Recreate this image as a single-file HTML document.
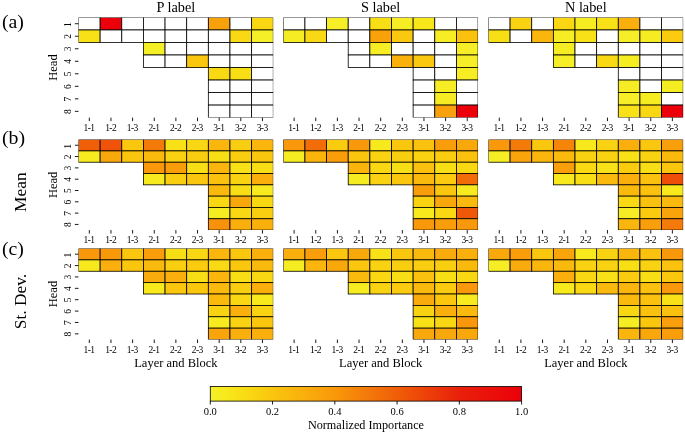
<!DOCTYPE html>
<html><head><meta charset="utf-8"><title>Figure</title>
<style>html,body{margin:0;padding:0;background:#fff;}svg{display:block}.t,.t text{font-family:"Liberation Serif",serif}</style></head>
<body>
<svg width="685" height="434" viewBox="0 0 685 434">
<rect width="685" height="434" fill="#fff"/>
<clipPath id="claP"><polygon points="78.50,17.45 273.26,17.45 273.26,117.61 78.50,117.61"/></clipPath>
<g stroke="#000" stroke-width="0.8" clip-path="url(#claP)">
<rect x="78.50" y="17.45" width="21.64" height="12.52" fill="#fff"/>
<rect x="100.14" y="17.45" width="21.64" height="12.52" fill="#ec000a"/>
<rect x="121.78" y="17.45" width="21.64" height="12.52" fill="#fff"/>
<rect x="143.42" y="17.45" width="21.64" height="12.52" fill="#fff"/>
<rect x="165.06" y="17.45" width="21.64" height="12.52" fill="#fff"/>
<rect x="186.70" y="17.45" width="21.64" height="12.52" fill="#fff"/>
<rect x="208.34" y="17.45" width="21.64" height="12.52" fill="#f9a10b"/>
<rect x="229.98" y="17.45" width="21.64" height="12.52" fill="#fff"/>
<rect x="251.62" y="17.45" width="21.64" height="12.52" fill="#f9d712"/>
<rect x="78.50" y="29.97" width="21.64" height="12.52" fill="#f8e217"/>
<rect x="100.14" y="29.97" width="21.64" height="12.52" fill="#fff"/>
<rect x="121.78" y="29.97" width="21.64" height="12.52" fill="#fff"/>
<rect x="143.42" y="29.97" width="21.64" height="12.52" fill="#fff"/>
<rect x="165.06" y="29.97" width="21.64" height="12.52" fill="#fff"/>
<rect x="186.70" y="29.97" width="21.64" height="12.52" fill="#fff"/>
<rect x="208.34" y="29.97" width="21.64" height="12.52" fill="#fff"/>
<rect x="229.98" y="29.97" width="21.64" height="12.52" fill="#f8d913"/>
<rect x="251.62" y="29.97" width="21.64" height="12.52" fill="#f5ef27"/>
<rect x="143.42" y="42.49" width="21.64" height="12.52" fill="#f5ef27"/>
<rect x="165.06" y="42.49" width="21.64" height="12.52" fill="#fff"/>
<rect x="186.70" y="42.49" width="21.64" height="12.52" fill="#fff"/>
<rect x="208.34" y="42.49" width="21.64" height="12.52" fill="#fff"/>
<rect x="229.98" y="42.49" width="21.64" height="12.52" fill="#fff"/>
<rect x="251.62" y="42.49" width="21.64" height="12.52" fill="#fff"/>
<rect x="143.42" y="55.01" width="21.64" height="12.52" fill="#fff"/>
<rect x="165.06" y="55.01" width="21.64" height="12.52" fill="#fff"/>
<rect x="186.70" y="55.01" width="21.64" height="12.52" fill="#fac60e"/>
<rect x="208.34" y="55.01" width="21.64" height="12.52" fill="#fff"/>
<rect x="229.98" y="55.01" width="21.64" height="12.52" fill="#fff"/>
<rect x="251.62" y="55.01" width="21.64" height="12.52" fill="#fff"/>
<rect x="208.34" y="67.53" width="21.64" height="12.52" fill="#f8d913"/>
<rect x="229.98" y="67.53" width="21.64" height="12.52" fill="#f8de14"/>
<rect x="251.62" y="67.53" width="21.64" height="12.52" fill="#fff"/>
<rect x="208.34" y="80.05" width="21.64" height="12.52" fill="#fff"/>
<rect x="229.98" y="80.05" width="21.64" height="12.52" fill="#fff"/>
<rect x="251.62" y="80.05" width="21.64" height="12.52" fill="#fff"/>
<rect x="208.34" y="92.57" width="21.64" height="12.52" fill="#fff"/>
<rect x="229.98" y="92.57" width="21.64" height="12.52" fill="#fff"/>
<rect x="251.62" y="92.57" width="21.64" height="12.52" fill="#fff"/>
<rect x="208.34" y="105.09" width="21.64" height="12.52" fill="#fff"/>
<rect x="229.98" y="105.09" width="21.64" height="12.52" fill="#fff"/>
<rect x="251.62" y="105.09" width="21.64" height="12.52" fill="#fff"/>
</g>
<g stroke="#000" stroke-width="0.9">
<line x1="89.32" y1="117.61" x2="89.32" y2="121.11"/>
<line x1="110.96" y1="117.61" x2="110.96" y2="121.11"/>
<line x1="132.60" y1="117.61" x2="132.60" y2="121.11"/>
<line x1="154.24" y1="117.61" x2="154.24" y2="121.11"/>
<line x1="175.88" y1="117.61" x2="175.88" y2="121.11"/>
<line x1="197.52" y1="117.61" x2="197.52" y2="121.11"/>
<line x1="219.16" y1="117.61" x2="219.16" y2="121.11"/>
<line x1="240.80" y1="117.61" x2="240.80" y2="121.11"/>
<line x1="262.44" y1="117.61" x2="262.44" y2="121.11"/>
</g>
<g class="t" font-size="9.5" letter-spacing="-0.55" text-anchor="middle" fill="#000">
<text x="89.02" y="130.71">1-1</text>
<text x="110.66" y="130.71">1-2</text>
<text x="132.30" y="130.71">1-3</text>
<text x="153.94" y="130.71">2-1</text>
<text x="175.58" y="130.71">2-2</text>
<text x="197.22" y="130.71">2-3</text>
<text x="218.86" y="130.71">3-1</text>
<text x="240.50" y="130.71">3-2</text>
<text x="262.14" y="130.71">3-3</text>
</g>
<clipPath id="claS"><polygon points="283.30,17.45 478.06,17.45 478.06,117.61 283.30,117.61"/></clipPath>
<g stroke="#000" stroke-width="0.8" clip-path="url(#claS)">
<rect x="283.30" y="17.45" width="21.64" height="12.52" fill="#fff"/>
<rect x="304.94" y="17.45" width="21.64" height="12.52" fill="#fff"/>
<rect x="326.58" y="17.45" width="21.64" height="12.52" fill="#f6ee26"/>
<rect x="348.22" y="17.45" width="21.64" height="12.52" fill="#fff"/>
<rect x="369.86" y="17.45" width="21.64" height="12.52" fill="#f8de14"/>
<rect x="391.50" y="17.45" width="21.64" height="12.52" fill="#f6ed24"/>
<rect x="413.14" y="17.45" width="21.64" height="12.52" fill="#f7e61a"/>
<rect x="434.78" y="17.45" width="21.64" height="12.52" fill="#fff"/>
<rect x="456.42" y="17.45" width="21.64" height="12.52" fill="#fff"/>
<rect x="283.30" y="29.97" width="21.64" height="12.52" fill="#f6ec23"/>
<rect x="304.94" y="29.97" width="21.64" height="12.52" fill="#f8d913"/>
<rect x="326.58" y="29.97" width="21.64" height="12.52" fill="#fff"/>
<rect x="348.22" y="29.97" width="21.64" height="12.52" fill="#fff"/>
<rect x="369.86" y="29.97" width="21.64" height="12.52" fill="#f9a10b"/>
<rect x="391.50" y="29.97" width="21.64" height="12.52" fill="#fac80f"/>
<rect x="413.14" y="29.97" width="21.64" height="12.52" fill="#fff"/>
<rect x="434.78" y="29.97" width="21.64" height="12.52" fill="#f6ed24"/>
<rect x="456.42" y="29.97" width="21.64" height="12.52" fill="#fac10e"/>
<rect x="348.22" y="42.49" width="21.64" height="12.52" fill="#fff"/>
<rect x="369.86" y="42.49" width="21.64" height="12.52" fill="#f6ed24"/>
<rect x="391.50" y="42.49" width="21.64" height="12.52" fill="#fff"/>
<rect x="413.14" y="42.49" width="21.64" height="12.52" fill="#fff"/>
<rect x="434.78" y="42.49" width="21.64" height="12.52" fill="#fff"/>
<rect x="456.42" y="42.49" width="21.64" height="12.52" fill="#f6ee26"/>
<rect x="348.22" y="55.01" width="21.64" height="12.52" fill="#fff"/>
<rect x="369.86" y="55.01" width="21.64" height="12.52" fill="#fff"/>
<rect x="391.50" y="55.01" width="21.64" height="12.52" fill="#fab10c"/>
<rect x="413.14" y="55.01" width="21.64" height="12.52" fill="#fac80f"/>
<rect x="434.78" y="55.01" width="21.64" height="12.52" fill="#fff"/>
<rect x="456.42" y="55.01" width="21.64" height="12.52" fill="#f6ee26"/>
<rect x="413.14" y="67.53" width="21.64" height="12.52" fill="#fff"/>
<rect x="434.78" y="67.53" width="21.64" height="12.52" fill="#fff"/>
<rect x="456.42" y="67.53" width="21.64" height="12.52" fill="#f6ed24"/>
<rect x="413.14" y="80.05" width="21.64" height="12.52" fill="#fff"/>
<rect x="434.78" y="80.05" width="21.64" height="12.52" fill="#f6ed24"/>
<rect x="456.42" y="80.05" width="21.64" height="12.52" fill="#fff"/>
<rect x="413.14" y="92.57" width="21.64" height="12.52" fill="#fff"/>
<rect x="434.78" y="92.57" width="21.64" height="12.52" fill="#f6ec23"/>
<rect x="456.42" y="92.57" width="21.64" height="12.52" fill="#fff"/>
<rect x="413.14" y="105.09" width="21.64" height="12.52" fill="#fff"/>
<rect x="434.78" y="105.09" width="21.64" height="12.52" fill="#f9a10b"/>
<rect x="456.42" y="105.09" width="21.64" height="12.52" fill="#ec000a"/>
</g>
<g stroke="#000" stroke-width="0.9">
<line x1="294.12" y1="117.61" x2="294.12" y2="121.11"/>
<line x1="315.76" y1="117.61" x2="315.76" y2="121.11"/>
<line x1="337.40" y1="117.61" x2="337.40" y2="121.11"/>
<line x1="359.04" y1="117.61" x2="359.04" y2="121.11"/>
<line x1="380.68" y1="117.61" x2="380.68" y2="121.11"/>
<line x1="402.32" y1="117.61" x2="402.32" y2="121.11"/>
<line x1="423.96" y1="117.61" x2="423.96" y2="121.11"/>
<line x1="445.60" y1="117.61" x2="445.60" y2="121.11"/>
<line x1="467.24" y1="117.61" x2="467.24" y2="121.11"/>
</g>
<g class="t" font-size="9.5" letter-spacing="-0.55" text-anchor="middle" fill="#000">
<text x="293.82" y="130.71">1-1</text>
<text x="315.46" y="130.71">1-2</text>
<text x="337.10" y="130.71">1-3</text>
<text x="358.74" y="130.71">2-1</text>
<text x="380.38" y="130.71">2-2</text>
<text x="402.02" y="130.71">2-3</text>
<text x="423.66" y="130.71">3-1</text>
<text x="445.30" y="130.71">3-2</text>
<text x="466.94" y="130.71">3-3</text>
</g>
<clipPath id="claN"><polygon points="488.45,17.45 683.21,17.45 683.21,117.61 488.45,117.61"/></clipPath>
<g stroke="#000" stroke-width="0.8" clip-path="url(#claN)">
<rect x="488.45" y="17.45" width="21.64" height="12.52" fill="#fff"/>
<rect x="510.09" y="17.45" width="21.64" height="12.52" fill="#f9d211"/>
<rect x="531.73" y="17.45" width="21.64" height="12.52" fill="#fff"/>
<rect x="553.37" y="17.45" width="21.64" height="12.52" fill="#f9d712"/>
<rect x="575.01" y="17.45" width="21.64" height="12.52" fill="#f6ec22"/>
<rect x="596.65" y="17.45" width="21.64" height="12.52" fill="#f8e217"/>
<rect x="618.29" y="17.45" width="21.64" height="12.52" fill="#faaf0c"/>
<rect x="639.93" y="17.45" width="21.64" height="12.52" fill="#fff"/>
<rect x="661.57" y="17.45" width="21.64" height="12.52" fill="#fff"/>
<rect x="488.45" y="29.97" width="21.64" height="12.52" fill="#f8de14"/>
<rect x="510.09" y="29.97" width="21.64" height="12.52" fill="#fff"/>
<rect x="531.73" y="29.97" width="21.64" height="12.52" fill="#fab60d"/>
<rect x="553.37" y="29.97" width="21.64" height="12.52" fill="#f6ed24"/>
<rect x="575.01" y="29.97" width="21.64" height="12.52" fill="#f8e217"/>
<rect x="596.65" y="29.97" width="21.64" height="12.52" fill="#fff"/>
<rect x="618.29" y="29.97" width="21.64" height="12.52" fill="#f6ee26"/>
<rect x="639.93" y="29.97" width="21.64" height="12.52" fill="#f6ec22"/>
<rect x="661.57" y="29.97" width="21.64" height="12.52" fill="#facb0f"/>
<rect x="553.37" y="42.49" width="21.64" height="12.52" fill="#f6ec23"/>
<rect x="575.01" y="42.49" width="21.64" height="12.52" fill="#fff"/>
<rect x="596.65" y="42.49" width="21.64" height="12.52" fill="#fff"/>
<rect x="618.29" y="42.49" width="21.64" height="12.52" fill="#fff"/>
<rect x="639.93" y="42.49" width="21.64" height="12.52" fill="#fff"/>
<rect x="661.57" y="42.49" width="21.64" height="12.52" fill="#fff"/>
<rect x="553.37" y="55.01" width="21.64" height="12.52" fill="#f6ee26"/>
<rect x="575.01" y="55.01" width="21.64" height="12.52" fill="#fff"/>
<rect x="596.65" y="55.01" width="21.64" height="12.52" fill="#f8d913"/>
<rect x="618.29" y="55.01" width="21.64" height="12.52" fill="#f6ec22"/>
<rect x="639.93" y="55.01" width="21.64" height="12.52" fill="#fff"/>
<rect x="661.57" y="55.01" width="21.64" height="12.52" fill="#fff"/>
<rect x="618.29" y="67.53" width="21.64" height="12.52" fill="#fff"/>
<rect x="639.93" y="67.53" width="21.64" height="12.52" fill="#fff"/>
<rect x="661.57" y="67.53" width="21.64" height="12.52" fill="#fff"/>
<rect x="618.29" y="80.05" width="21.64" height="12.52" fill="#f6ec23"/>
<rect x="639.93" y="80.05" width="21.64" height="12.52" fill="#fff"/>
<rect x="661.57" y="80.05" width="21.64" height="12.52" fill="#f6ec22"/>
<rect x="618.29" y="92.57" width="21.64" height="12.52" fill="#f6ee26"/>
<rect x="639.93" y="92.57" width="21.64" height="12.52" fill="#f6ec22"/>
<rect x="661.57" y="92.57" width="21.64" height="12.52" fill="#fff"/>
<rect x="618.29" y="105.09" width="21.64" height="12.52" fill="#f8e217"/>
<rect x="639.93" y="105.09" width="21.64" height="12.52" fill="#f9d712"/>
<rect x="661.57" y="105.09" width="21.64" height="12.52" fill="#ec000a"/>
</g>
<g stroke="#000" stroke-width="0.9">
<line x1="499.27" y1="117.61" x2="499.27" y2="121.11"/>
<line x1="520.91" y1="117.61" x2="520.91" y2="121.11"/>
<line x1="542.55" y1="117.61" x2="542.55" y2="121.11"/>
<line x1="564.19" y1="117.61" x2="564.19" y2="121.11"/>
<line x1="585.83" y1="117.61" x2="585.83" y2="121.11"/>
<line x1="607.47" y1="117.61" x2="607.47" y2="121.11"/>
<line x1="629.11" y1="117.61" x2="629.11" y2="121.11"/>
<line x1="650.75" y1="117.61" x2="650.75" y2="121.11"/>
<line x1="672.39" y1="117.61" x2="672.39" y2="121.11"/>
</g>
<g class="t" font-size="9.5" letter-spacing="-0.55" text-anchor="middle" fill="#000">
<text x="498.97" y="130.71">1-1</text>
<text x="520.61" y="130.71">1-2</text>
<text x="542.25" y="130.71">1-3</text>
<text x="563.89" y="130.71">2-1</text>
<text x="585.53" y="130.71">2-2</text>
<text x="607.17" y="130.71">2-3</text>
<text x="628.81" y="130.71">3-1</text>
<text x="650.45" y="130.71">3-2</text>
<text x="672.09" y="130.71">3-3</text>
</g>
<g stroke="#000" stroke-width="0.9">
<line x1="74.90" y1="23.71" x2="78.50" y2="23.71"/>
<line x1="74.90" y1="36.23" x2="78.50" y2="36.23"/>
<line x1="74.90" y1="48.75" x2="78.50" y2="48.75"/>
<line x1="74.90" y1="61.27" x2="78.50" y2="61.27"/>
<line x1="74.90" y1="73.79" x2="78.50" y2="73.79"/>
<line x1="74.90" y1="86.31" x2="78.50" y2="86.31"/>
<line x1="74.90" y1="98.83" x2="78.50" y2="98.83"/>
<line x1="74.90" y1="111.35" x2="78.50" y2="111.35"/>
</g>
<g class="t" font-size="9.5" text-anchor="middle" fill="#000">
<text transform="translate(70.9,24.71) rotate(-90)">1</text>
<text transform="translate(70.9,36.43) rotate(-90)">2</text>
<text transform="translate(70.9,48.95) rotate(-90)">3</text>
<text transform="translate(70.9,61.47) rotate(-90)">4</text>
<text transform="translate(70.9,73.99) rotate(-90)">5</text>
<text transform="translate(70.9,86.51) rotate(-90)">6</text>
<text transform="translate(70.9,99.03) rotate(-90)">7</text>
<text transform="translate(70.9,111.55) rotate(-90)">8</text>
</g>
<text class="t" font-size="12.5" text-anchor="middle" transform="translate(57.3,67.53) rotate(-90)">Head</text>
<clipPath id="clbP"><polygon points="78.50,139.60 273.26,139.60 273.26,230.08 78.50,230.08"/></clipPath>
<g stroke="#000" stroke-width="0.8" clip-path="url(#clbP)">
<rect x="78.50" y="139.60" width="21.64" height="11.31" fill="#f05e08"/>
<rect x="100.14" y="139.60" width="21.64" height="11.31" fill="#ef5208"/>
<rect x="121.78" y="139.60" width="21.64" height="11.31" fill="#fac60e"/>
<rect x="143.42" y="139.60" width="21.64" height="11.31" fill="#f47b09"/>
<rect x="165.06" y="139.60" width="21.64" height="11.31" fill="#f8e217"/>
<rect x="186.70" y="139.60" width="21.64" height="11.31" fill="#f9d712"/>
<rect x="208.34" y="139.60" width="21.64" height="11.31" fill="#fab60d"/>
<rect x="229.98" y="139.60" width="21.64" height="11.31" fill="#f9cd10"/>
<rect x="251.62" y="139.60" width="21.64" height="11.31" fill="#fab60d"/>
<rect x="78.50" y="150.91" width="21.64" height="11.31" fill="#f7ea1f"/>
<rect x="100.14" y="150.91" width="21.64" height="11.31" fill="#f9a80b"/>
<rect x="121.78" y="150.91" width="21.64" height="11.31" fill="#fac60e"/>
<rect x="143.42" y="150.91" width="21.64" height="11.31" fill="#faba0d"/>
<rect x="165.06" y="150.91" width="21.64" height="11.31" fill="#f9d211"/>
<rect x="186.70" y="150.91" width="21.64" height="11.31" fill="#f9cd10"/>
<rect x="208.34" y="150.91" width="21.64" height="11.31" fill="#f8de14"/>
<rect x="229.98" y="150.91" width="21.64" height="11.31" fill="#f9cd10"/>
<rect x="251.62" y="150.91" width="21.64" height="11.31" fill="#fac60e"/>
<rect x="143.42" y="162.22" width="21.64" height="11.31" fill="#f9980a"/>
<rect x="165.06" y="162.22" width="21.64" height="11.31" fill="#f99d0a"/>
<rect x="186.70" y="162.22" width="21.64" height="11.31" fill="#f8de14"/>
<rect x="208.34" y="162.22" width="21.64" height="11.31" fill="#fab60d"/>
<rect x="229.98" y="162.22" width="21.64" height="11.31" fill="#f8e217"/>
<rect x="251.62" y="162.22" width="21.64" height="11.31" fill="#f8de14"/>
<rect x="143.42" y="173.53" width="21.64" height="11.31" fill="#f7ea1f"/>
<rect x="165.06" y="173.53" width="21.64" height="11.31" fill="#f9cd10"/>
<rect x="186.70" y="173.53" width="21.64" height="11.31" fill="#fac60e"/>
<rect x="208.34" y="173.53" width="21.64" height="11.31" fill="#fac10e"/>
<rect x="229.98" y="173.53" width="21.64" height="11.31" fill="#f9d211"/>
<rect x="251.62" y="173.53" width="21.64" height="11.31" fill="#faaf0c"/>
<rect x="208.34" y="184.84" width="21.64" height="11.31" fill="#faba0d"/>
<rect x="229.98" y="184.84" width="21.64" height="11.31" fill="#f8de14"/>
<rect x="251.62" y="184.84" width="21.64" height="11.31" fill="#f7ea1f"/>
<rect x="208.34" y="196.15" width="21.64" height="11.31" fill="#f9d712"/>
<rect x="229.98" y="196.15" width="21.64" height="11.31" fill="#f9a80b"/>
<rect x="251.62" y="196.15" width="21.64" height="11.31" fill="#f9d712"/>
<rect x="208.34" y="207.46" width="21.64" height="11.31" fill="#f6ec22"/>
<rect x="229.98" y="207.46" width="21.64" height="11.31" fill="#f9d712"/>
<rect x="251.62" y="207.46" width="21.64" height="11.31" fill="#f9cd10"/>
<rect x="208.34" y="218.77" width="21.64" height="11.31" fill="#f8920a"/>
<rect x="229.98" y="218.77" width="21.64" height="11.31" fill="#faaf0c"/>
<rect x="251.62" y="218.77" width="21.64" height="11.31" fill="#faaf0c"/>
</g>
<g stroke="#000" stroke-width="0.9">
<line x1="89.32" y1="230.08" x2="89.32" y2="233.58"/>
<line x1="110.96" y1="230.08" x2="110.96" y2="233.58"/>
<line x1="132.60" y1="230.08" x2="132.60" y2="233.58"/>
<line x1="154.24" y1="230.08" x2="154.24" y2="233.58"/>
<line x1="175.88" y1="230.08" x2="175.88" y2="233.58"/>
<line x1="197.52" y1="230.08" x2="197.52" y2="233.58"/>
<line x1="219.16" y1="230.08" x2="219.16" y2="233.58"/>
<line x1="240.80" y1="230.08" x2="240.80" y2="233.58"/>
<line x1="262.44" y1="230.08" x2="262.44" y2="233.58"/>
</g>
<g class="t" font-size="9.5" letter-spacing="-0.55" text-anchor="middle" fill="#000">
<text x="89.02" y="243.18">1-1</text>
<text x="110.66" y="243.18">1-2</text>
<text x="132.30" y="243.18">1-3</text>
<text x="153.94" y="243.18">2-1</text>
<text x="175.58" y="243.18">2-2</text>
<text x="197.22" y="243.18">2-3</text>
<text x="218.86" y="243.18">3-1</text>
<text x="240.50" y="243.18">3-2</text>
<text x="262.14" y="243.18">3-3</text>
</g>
<clipPath id="clbS"><polygon points="283.30,139.60 478.06,139.60 478.06,230.08 283.30,230.08"/></clipPath>
<g stroke="#000" stroke-width="0.8" clip-path="url(#clbS)">
<rect x="283.30" y="139.60" width="21.64" height="11.31" fill="#f9980a"/>
<rect x="304.94" y="139.60" width="21.64" height="11.31" fill="#f26c08"/>
<rect x="326.58" y="139.60" width="21.64" height="11.31" fill="#facb0f"/>
<rect x="348.22" y="139.60" width="21.64" height="11.31" fill="#f9980a"/>
<rect x="369.86" y="139.60" width="21.64" height="11.31" fill="#f7e91c"/>
<rect x="391.50" y="139.60" width="21.64" height="11.31" fill="#fac60e"/>
<rect x="413.14" y="139.60" width="21.64" height="11.31" fill="#fac10e"/>
<rect x="434.78" y="139.60" width="21.64" height="11.31" fill="#f99d0a"/>
<rect x="456.42" y="139.60" width="21.64" height="11.31" fill="#f9a80b"/>
<rect x="283.30" y="150.91" width="21.64" height="11.31" fill="#f6ec22"/>
<rect x="304.94" y="150.91" width="21.64" height="11.31" fill="#fab40c"/>
<rect x="326.58" y="150.91" width="21.64" height="11.31" fill="#f99d0a"/>
<rect x="348.22" y="150.91" width="21.64" height="11.31" fill="#fac60e"/>
<rect x="369.86" y="150.91" width="21.64" height="11.31" fill="#f9d211"/>
<rect x="391.50" y="150.91" width="21.64" height="11.31" fill="#f9cd10"/>
<rect x="413.14" y="150.91" width="21.64" height="11.31" fill="#f9d211"/>
<rect x="434.78" y="150.91" width="21.64" height="11.31" fill="#f9cd10"/>
<rect x="456.42" y="150.91" width="21.64" height="11.31" fill="#fac10e"/>
<rect x="348.22" y="162.22" width="21.64" height="11.31" fill="#fab40c"/>
<rect x="369.86" y="162.22" width="21.64" height="11.31" fill="#f9d712"/>
<rect x="391.50" y="162.22" width="21.64" height="11.31" fill="#f8de14"/>
<rect x="413.14" y="162.22" width="21.64" height="11.31" fill="#fac10e"/>
<rect x="434.78" y="162.22" width="21.64" height="11.31" fill="#f8de14"/>
<rect x="456.42" y="162.22" width="21.64" height="11.31" fill="#f8d913"/>
<rect x="348.22" y="173.53" width="21.64" height="11.31" fill="#f6ec22"/>
<rect x="369.86" y="173.53" width="21.64" height="11.31" fill="#f9d211"/>
<rect x="391.50" y="173.53" width="21.64" height="11.31" fill="#fac60e"/>
<rect x="413.14" y="173.53" width="21.64" height="11.31" fill="#faba0d"/>
<rect x="434.78" y="173.53" width="21.64" height="11.31" fill="#facb0f"/>
<rect x="456.42" y="173.53" width="21.64" height="11.31" fill="#f26c08"/>
<rect x="413.14" y="184.84" width="21.64" height="11.31" fill="#f99d0a"/>
<rect x="434.78" y="184.84" width="21.64" height="11.31" fill="#fac60e"/>
<rect x="456.42" y="184.84" width="21.64" height="11.31" fill="#f7ea1f"/>
<rect x="413.14" y="196.15" width="21.64" height="11.31" fill="#f9d211"/>
<rect x="434.78" y="196.15" width="21.64" height="11.31" fill="#f9a80b"/>
<rect x="456.42" y="196.15" width="21.64" height="11.31" fill="#faba0d"/>
<rect x="413.14" y="207.46" width="21.64" height="11.31" fill="#f7e91c"/>
<rect x="434.78" y="207.46" width="21.64" height="11.31" fill="#f9d712"/>
<rect x="456.42" y="207.46" width="21.64" height="11.31" fill="#ef5808"/>
<rect x="413.14" y="218.77" width="21.64" height="11.31" fill="#f9980a"/>
<rect x="434.78" y="218.77" width="21.64" height="11.31" fill="#f99d0a"/>
<rect x="456.42" y="218.77" width="21.64" height="11.31" fill="#f9980a"/>
</g>
<g stroke="#000" stroke-width="0.9">
<line x1="294.12" y1="230.08" x2="294.12" y2="233.58"/>
<line x1="315.76" y1="230.08" x2="315.76" y2="233.58"/>
<line x1="337.40" y1="230.08" x2="337.40" y2="233.58"/>
<line x1="359.04" y1="230.08" x2="359.04" y2="233.58"/>
<line x1="380.68" y1="230.08" x2="380.68" y2="233.58"/>
<line x1="402.32" y1="230.08" x2="402.32" y2="233.58"/>
<line x1="423.96" y1="230.08" x2="423.96" y2="233.58"/>
<line x1="445.60" y1="230.08" x2="445.60" y2="233.58"/>
<line x1="467.24" y1="230.08" x2="467.24" y2="233.58"/>
</g>
<g class="t" font-size="9.5" letter-spacing="-0.55" text-anchor="middle" fill="#000">
<text x="293.82" y="243.18">1-1</text>
<text x="315.46" y="243.18">1-2</text>
<text x="337.10" y="243.18">1-3</text>
<text x="358.74" y="243.18">2-1</text>
<text x="380.38" y="243.18">2-2</text>
<text x="402.02" y="243.18">2-3</text>
<text x="423.66" y="243.18">3-1</text>
<text x="445.30" y="243.18">3-2</text>
<text x="466.94" y="243.18">3-3</text>
</g>
<clipPath id="clbN"><polygon points="488.45,139.60 683.21,139.60 683.21,230.08 488.45,230.08"/></clipPath>
<g stroke="#000" stroke-width="0.8" clip-path="url(#clbN)">
<rect x="488.45" y="139.60" width="21.64" height="11.31" fill="#f9980a"/>
<rect x="510.09" y="139.60" width="21.64" height="11.31" fill="#f47b09"/>
<rect x="531.73" y="139.60" width="21.64" height="11.31" fill="#fac60e"/>
<rect x="553.37" y="139.60" width="21.64" height="11.31" fill="#f68409"/>
<rect x="575.01" y="139.60" width="21.64" height="11.31" fill="#f7e91c"/>
<rect x="596.65" y="139.60" width="21.64" height="11.31" fill="#f9d211"/>
<rect x="618.29" y="139.60" width="21.64" height="11.31" fill="#faaf0c"/>
<rect x="639.93" y="139.60" width="21.64" height="11.31" fill="#fac60e"/>
<rect x="661.57" y="139.60" width="21.64" height="11.31" fill="#f99f0b"/>
<rect x="488.45" y="150.91" width="21.64" height="11.31" fill="#f6ed24"/>
<rect x="510.09" y="150.91" width="21.64" height="11.31" fill="#f9a40b"/>
<rect x="531.73" y="150.91" width="21.64" height="11.31" fill="#fab60d"/>
<rect x="553.37" y="150.91" width="21.64" height="11.31" fill="#faba0d"/>
<rect x="575.01" y="150.91" width="21.64" height="11.31" fill="#f9d211"/>
<rect x="596.65" y="150.91" width="21.64" height="11.31" fill="#f9d211"/>
<rect x="618.29" y="150.91" width="21.64" height="11.31" fill="#f8e217"/>
<rect x="639.93" y="150.91" width="21.64" height="11.31" fill="#f9d211"/>
<rect x="661.57" y="150.91" width="21.64" height="11.31" fill="#faba0d"/>
<rect x="553.37" y="162.22" width="21.64" height="11.31" fill="#f99f0b"/>
<rect x="575.01" y="162.22" width="21.64" height="11.31" fill="#f8d913"/>
<rect x="596.65" y="162.22" width="21.64" height="11.31" fill="#f8e217"/>
<rect x="618.29" y="162.22" width="21.64" height="11.31" fill="#facb0f"/>
<rect x="639.93" y="162.22" width="21.64" height="11.31" fill="#f8de14"/>
<rect x="661.57" y="162.22" width="21.64" height="11.31" fill="#fac60e"/>
<rect x="553.37" y="173.53" width="21.64" height="11.31" fill="#f7e91c"/>
<rect x="575.01" y="173.53" width="21.64" height="11.31" fill="#f8de14"/>
<rect x="596.65" y="173.53" width="21.64" height="11.31" fill="#faba0d"/>
<rect x="618.29" y="173.53" width="21.64" height="11.31" fill="#faaf0c"/>
<rect x="639.93" y="173.53" width="21.64" height="11.31" fill="#fac10e"/>
<rect x="661.57" y="173.53" width="21.64" height="11.31" fill="#ee4e08"/>
<rect x="618.29" y="184.84" width="21.64" height="11.31" fill="#faba0d"/>
<rect x="639.93" y="184.84" width="21.64" height="11.31" fill="#fac10e"/>
<rect x="661.57" y="184.84" width="21.64" height="11.31" fill="#f7e91c"/>
<rect x="618.29" y="196.15" width="21.64" height="11.31" fill="#f8d913"/>
<rect x="639.93" y="196.15" width="21.64" height="11.31" fill="#fac10e"/>
<rect x="661.57" y="196.15" width="21.64" height="11.31" fill="#faba0d"/>
<rect x="618.29" y="207.46" width="21.64" height="11.31" fill="#f6ed24"/>
<rect x="639.93" y="207.46" width="21.64" height="11.31" fill="#facb0f"/>
<rect x="661.57" y="207.46" width="21.64" height="11.31" fill="#f9a40b"/>
<rect x="618.29" y="218.77" width="21.64" height="11.31" fill="#fab60d"/>
<rect x="639.93" y="218.77" width="21.64" height="11.31" fill="#f99f0b"/>
<rect x="661.57" y="218.77" width="21.64" height="11.31" fill="#f47b09"/>
</g>
<g stroke="#000" stroke-width="0.9">
<line x1="499.27" y1="230.08" x2="499.27" y2="233.58"/>
<line x1="520.91" y1="230.08" x2="520.91" y2="233.58"/>
<line x1="542.55" y1="230.08" x2="542.55" y2="233.58"/>
<line x1="564.19" y1="230.08" x2="564.19" y2="233.58"/>
<line x1="585.83" y1="230.08" x2="585.83" y2="233.58"/>
<line x1="607.47" y1="230.08" x2="607.47" y2="233.58"/>
<line x1="629.11" y1="230.08" x2="629.11" y2="233.58"/>
<line x1="650.75" y1="230.08" x2="650.75" y2="233.58"/>
<line x1="672.39" y1="230.08" x2="672.39" y2="233.58"/>
</g>
<g class="t" font-size="9.5" letter-spacing="-0.55" text-anchor="middle" fill="#000">
<text x="498.97" y="243.18">1-1</text>
<text x="520.61" y="243.18">1-2</text>
<text x="542.25" y="243.18">1-3</text>
<text x="563.89" y="243.18">2-1</text>
<text x="585.53" y="243.18">2-2</text>
<text x="607.17" y="243.18">2-3</text>
<text x="628.81" y="243.18">3-1</text>
<text x="650.45" y="243.18">3-2</text>
<text x="672.09" y="243.18">3-3</text>
</g>
<g stroke="#000" stroke-width="0.9">
<line x1="74.90" y1="145.25" x2="78.50" y2="145.25"/>
<line x1="74.90" y1="156.56" x2="78.50" y2="156.56"/>
<line x1="74.90" y1="167.88" x2="78.50" y2="167.88"/>
<line x1="74.90" y1="179.19" x2="78.50" y2="179.19"/>
<line x1="74.90" y1="190.50" x2="78.50" y2="190.50"/>
<line x1="74.90" y1="201.81" x2="78.50" y2="201.81"/>
<line x1="74.90" y1="213.12" x2="78.50" y2="213.12"/>
<line x1="74.90" y1="224.43" x2="78.50" y2="224.43"/>
</g>
<g class="t" font-size="9.5" text-anchor="middle" fill="#000">
<text transform="translate(70.9,146.25) rotate(-90)">1</text>
<text transform="translate(70.9,156.76) rotate(-90)">2</text>
<text transform="translate(70.9,168.07) rotate(-90)">3</text>
<text transform="translate(70.9,179.38) rotate(-90)">4</text>
<text transform="translate(70.9,190.69) rotate(-90)">5</text>
<text transform="translate(70.9,202.00) rotate(-90)">6</text>
<text transform="translate(70.9,213.31) rotate(-90)">7</text>
<text transform="translate(70.9,224.62) rotate(-90)">8</text>
</g>
<text class="t" font-size="12.5" text-anchor="middle" transform="translate(57.3,184.84) rotate(-90)">Head</text>
<clipPath id="clcP"><polygon points="78.50,248.50 273.26,248.50 273.26,339.54 78.50,339.54"/></clipPath>
<g stroke="#000" stroke-width="0.8" clip-path="url(#clcP)">
<rect x="78.50" y="248.50" width="21.64" height="11.38" fill="#f9980a"/>
<rect x="100.14" y="248.50" width="21.64" height="11.38" fill="#f9980a"/>
<rect x="121.78" y="248.50" width="21.64" height="11.38" fill="#fac60e"/>
<rect x="143.42" y="248.50" width="21.64" height="11.38" fill="#f99d0a"/>
<rect x="165.06" y="248.50" width="21.64" height="11.38" fill="#f8de14"/>
<rect x="186.70" y="248.50" width="21.64" height="11.38" fill="#f9d712"/>
<rect x="208.34" y="248.50" width="21.64" height="11.38" fill="#fab60d"/>
<rect x="229.98" y="248.50" width="21.64" height="11.38" fill="#fac60e"/>
<rect x="251.62" y="248.50" width="21.64" height="11.38" fill="#faaf0c"/>
<rect x="78.50" y="259.88" width="21.64" height="11.38" fill="#f7e91c"/>
<rect x="100.14" y="259.88" width="21.64" height="11.38" fill="#faaf0c"/>
<rect x="121.78" y="259.88" width="21.64" height="11.38" fill="#fac60e"/>
<rect x="143.42" y="259.88" width="21.64" height="11.38" fill="#faba0d"/>
<rect x="165.06" y="259.88" width="21.64" height="11.38" fill="#f9cd10"/>
<rect x="186.70" y="259.88" width="21.64" height="11.38" fill="#facb0f"/>
<rect x="208.34" y="259.88" width="21.64" height="11.38" fill="#f8d913"/>
<rect x="229.98" y="259.88" width="21.64" height="11.38" fill="#fac60e"/>
<rect x="251.62" y="259.88" width="21.64" height="11.38" fill="#faba0d"/>
<rect x="143.42" y="271.26" width="21.64" height="11.38" fill="#f9aa0c"/>
<rect x="165.06" y="271.26" width="21.64" height="11.38" fill="#faaf0c"/>
<rect x="186.70" y="271.26" width="21.64" height="11.38" fill="#f8de14"/>
<rect x="208.34" y="271.26" width="21.64" height="11.38" fill="#fab60d"/>
<rect x="229.98" y="271.26" width="21.64" height="11.38" fill="#f8de14"/>
<rect x="251.62" y="271.26" width="21.64" height="11.38" fill="#f9d712"/>
<rect x="143.42" y="282.64" width="21.64" height="11.38" fill="#f7e91c"/>
<rect x="165.06" y="282.64" width="21.64" height="11.38" fill="#fac60e"/>
<rect x="186.70" y="282.64" width="21.64" height="11.38" fill="#fac60e"/>
<rect x="208.34" y="282.64" width="21.64" height="11.38" fill="#faba0d"/>
<rect x="229.98" y="282.64" width="21.64" height="11.38" fill="#f9cd10"/>
<rect x="251.62" y="282.64" width="21.64" height="11.38" fill="#faaf0c"/>
<rect x="208.34" y="294.02" width="21.64" height="11.38" fill="#faba0d"/>
<rect x="229.98" y="294.02" width="21.64" height="11.38" fill="#f9d712"/>
<rect x="251.62" y="294.02" width="21.64" height="11.38" fill="#f7e91c"/>
<rect x="208.34" y="305.40" width="21.64" height="11.38" fill="#f9d211"/>
<rect x="229.98" y="305.40" width="21.64" height="11.38" fill="#faaf0c"/>
<rect x="251.62" y="305.40" width="21.64" height="11.38" fill="#f9d211"/>
<rect x="208.34" y="316.78" width="21.64" height="11.38" fill="#f7ea1f"/>
<rect x="229.98" y="316.78" width="21.64" height="11.38" fill="#f9d211"/>
<rect x="251.62" y="316.78" width="21.64" height="11.38" fill="#fac60e"/>
<rect x="208.34" y="328.16" width="21.64" height="11.38" fill="#f9a40b"/>
<rect x="229.98" y="328.16" width="21.64" height="11.38" fill="#faaf0c"/>
<rect x="251.62" y="328.16" width="21.64" height="11.38" fill="#faaf0c"/>
</g>
<g stroke="#000" stroke-width="0.9">
<line x1="89.32" y1="339.54" x2="89.32" y2="343.04"/>
<line x1="110.96" y1="339.54" x2="110.96" y2="343.04"/>
<line x1="132.60" y1="339.54" x2="132.60" y2="343.04"/>
<line x1="154.24" y1="339.54" x2="154.24" y2="343.04"/>
<line x1="175.88" y1="339.54" x2="175.88" y2="343.04"/>
<line x1="197.52" y1="339.54" x2="197.52" y2="343.04"/>
<line x1="219.16" y1="339.54" x2="219.16" y2="343.04"/>
<line x1="240.80" y1="339.54" x2="240.80" y2="343.04"/>
<line x1="262.44" y1="339.54" x2="262.44" y2="343.04"/>
</g>
<g class="t" font-size="9.5" letter-spacing="-0.55" text-anchor="middle" fill="#000">
<text x="89.02" y="352.64">1-1</text>
<text x="110.66" y="352.64">1-2</text>
<text x="132.30" y="352.64">1-3</text>
<text x="153.94" y="352.64">2-1</text>
<text x="175.58" y="352.64">2-2</text>
<text x="197.22" y="352.64">2-3</text>
<text x="218.86" y="352.64">3-1</text>
<text x="240.50" y="352.64">3-2</text>
<text x="262.14" y="352.64">3-3</text>
</g>
<clipPath id="clcS"><polygon points="283.30,248.50 478.06,248.50 478.06,339.54 283.30,339.54"/></clipPath>
<g stroke="#000" stroke-width="0.8" clip-path="url(#clcS)">
<rect x="283.30" y="248.50" width="21.64" height="11.38" fill="#faaf0c"/>
<rect x="304.94" y="248.50" width="21.64" height="11.38" fill="#f99d0a"/>
<rect x="326.58" y="248.50" width="21.64" height="11.38" fill="#fac60e"/>
<rect x="348.22" y="248.50" width="21.64" height="11.38" fill="#f9a80b"/>
<rect x="369.86" y="248.50" width="21.64" height="11.38" fill="#f8e217"/>
<rect x="391.50" y="248.50" width="21.64" height="11.38" fill="#fac60e"/>
<rect x="413.14" y="248.50" width="21.64" height="11.38" fill="#faba0d"/>
<rect x="434.78" y="248.50" width="21.64" height="11.38" fill="#f9aa0c"/>
<rect x="456.42" y="248.50" width="21.64" height="11.38" fill="#faaf0c"/>
<rect x="283.30" y="259.88" width="21.64" height="11.38" fill="#f6ec22"/>
<rect x="304.94" y="259.88" width="21.64" height="11.38" fill="#fab60d"/>
<rect x="326.58" y="259.88" width="21.64" height="11.38" fill="#f9a80b"/>
<rect x="348.22" y="259.88" width="21.64" height="11.38" fill="#fac60e"/>
<rect x="369.86" y="259.88" width="21.64" height="11.38" fill="#f9d211"/>
<rect x="391.50" y="259.88" width="21.64" height="11.38" fill="#f9cd10"/>
<rect x="413.14" y="259.88" width="21.64" height="11.38" fill="#f9cd10"/>
<rect x="434.78" y="259.88" width="21.64" height="11.38" fill="#f9cd10"/>
<rect x="456.42" y="259.88" width="21.64" height="11.38" fill="#faba0d"/>
<rect x="348.22" y="271.26" width="21.64" height="11.38" fill="#faba0d"/>
<rect x="369.86" y="271.26" width="21.64" height="11.38" fill="#f9d712"/>
<rect x="391.50" y="271.26" width="21.64" height="11.38" fill="#f8de14"/>
<rect x="413.14" y="271.26" width="21.64" height="11.38" fill="#fac10e"/>
<rect x="434.78" y="271.26" width="21.64" height="11.38" fill="#f8de14"/>
<rect x="456.42" y="271.26" width="21.64" height="11.38" fill="#f9d712"/>
<rect x="348.22" y="282.64" width="21.64" height="11.38" fill="#f6ec22"/>
<rect x="369.86" y="282.64" width="21.64" height="11.38" fill="#f9d211"/>
<rect x="391.50" y="282.64" width="21.64" height="11.38" fill="#facb0f"/>
<rect x="413.14" y="282.64" width="21.64" height="11.38" fill="#faba0d"/>
<rect x="434.78" y="282.64" width="21.64" height="11.38" fill="#facb0f"/>
<rect x="456.42" y="282.64" width="21.64" height="11.38" fill="#f9980a"/>
<rect x="413.14" y="294.02" width="21.64" height="11.38" fill="#f9aa0c"/>
<rect x="434.78" y="294.02" width="21.64" height="11.38" fill="#fac60e"/>
<rect x="456.42" y="294.02" width="21.64" height="11.38" fill="#f7ea1f"/>
<rect x="413.14" y="305.40" width="21.64" height="11.38" fill="#f9d211"/>
<rect x="434.78" y="305.40" width="21.64" height="11.38" fill="#faaf0c"/>
<rect x="456.42" y="305.40" width="21.64" height="11.38" fill="#faba0d"/>
<rect x="413.14" y="316.78" width="21.64" height="11.38" fill="#f8e217"/>
<rect x="434.78" y="316.78" width="21.64" height="11.38" fill="#f9d712"/>
<rect x="456.42" y="316.78" width="21.64" height="11.38" fill="#f9980a"/>
<rect x="413.14" y="328.16" width="21.64" height="11.38" fill="#f9a80b"/>
<rect x="434.78" y="328.16" width="21.64" height="11.38" fill="#f9a80b"/>
<rect x="456.42" y="328.16" width="21.64" height="11.38" fill="#f9a80b"/>
</g>
<g stroke="#000" stroke-width="0.9">
<line x1="294.12" y1="339.54" x2="294.12" y2="343.04"/>
<line x1="315.76" y1="339.54" x2="315.76" y2="343.04"/>
<line x1="337.40" y1="339.54" x2="337.40" y2="343.04"/>
<line x1="359.04" y1="339.54" x2="359.04" y2="343.04"/>
<line x1="380.68" y1="339.54" x2="380.68" y2="343.04"/>
<line x1="402.32" y1="339.54" x2="402.32" y2="343.04"/>
<line x1="423.96" y1="339.54" x2="423.96" y2="343.04"/>
<line x1="445.60" y1="339.54" x2="445.60" y2="343.04"/>
<line x1="467.24" y1="339.54" x2="467.24" y2="343.04"/>
</g>
<g class="t" font-size="9.5" letter-spacing="-0.55" text-anchor="middle" fill="#000">
<text x="293.82" y="352.64">1-1</text>
<text x="315.46" y="352.64">1-2</text>
<text x="337.10" y="352.64">1-3</text>
<text x="358.74" y="352.64">2-1</text>
<text x="380.38" y="352.64">2-2</text>
<text x="402.02" y="352.64">2-3</text>
<text x="423.66" y="352.64">3-1</text>
<text x="445.30" y="352.64">3-2</text>
<text x="466.94" y="352.64">3-3</text>
</g>
<clipPath id="clcN"><polygon points="488.45,248.50 683.21,248.50 683.21,339.54 488.45,339.54"/></clipPath>
<g stroke="#000" stroke-width="0.8" clip-path="url(#clcN)">
<rect x="488.45" y="248.50" width="21.64" height="11.38" fill="#f9a80b"/>
<rect x="510.09" y="248.50" width="21.64" height="11.38" fill="#f99d0a"/>
<rect x="531.73" y="248.50" width="21.64" height="11.38" fill="#fac60e"/>
<rect x="553.37" y="248.50" width="21.64" height="11.38" fill="#f9a40b"/>
<rect x="575.01" y="248.50" width="21.64" height="11.38" fill="#f7e91c"/>
<rect x="596.65" y="248.50" width="21.64" height="11.38" fill="#f9d211"/>
<rect x="618.29" y="248.50" width="21.64" height="11.38" fill="#fab60d"/>
<rect x="639.93" y="248.50" width="21.64" height="11.38" fill="#fac10e"/>
<rect x="661.57" y="248.50" width="21.64" height="11.38" fill="#f9980a"/>
<rect x="488.45" y="259.88" width="21.64" height="11.38" fill="#f6ed24"/>
<rect x="510.09" y="259.88" width="21.64" height="11.38" fill="#f9aa0c"/>
<rect x="531.73" y="259.88" width="21.64" height="11.38" fill="#fab60d"/>
<rect x="553.37" y="259.88" width="21.64" height="11.38" fill="#faba0d"/>
<rect x="575.01" y="259.88" width="21.64" height="11.38" fill="#f9d211"/>
<rect x="596.65" y="259.88" width="21.64" height="11.38" fill="#f9d211"/>
<rect x="618.29" y="259.88" width="21.64" height="11.38" fill="#f8de14"/>
<rect x="639.93" y="259.88" width="21.64" height="11.38" fill="#f9d211"/>
<rect x="661.57" y="259.88" width="21.64" height="11.38" fill="#fac10e"/>
<rect x="553.37" y="271.26" width="21.64" height="11.38" fill="#faaf0c"/>
<rect x="575.01" y="271.26" width="21.64" height="11.38" fill="#f9d712"/>
<rect x="596.65" y="271.26" width="21.64" height="11.38" fill="#f8e217"/>
<rect x="618.29" y="271.26" width="21.64" height="11.38" fill="#facb0f"/>
<rect x="639.93" y="271.26" width="21.64" height="11.38" fill="#f8de14"/>
<rect x="661.57" y="271.26" width="21.64" height="11.38" fill="#fac60e"/>
<rect x="553.37" y="282.64" width="21.64" height="11.38" fill="#f7e91c"/>
<rect x="575.01" y="282.64" width="21.64" height="11.38" fill="#f8d913"/>
<rect x="596.65" y="282.64" width="21.64" height="11.38" fill="#faba0d"/>
<rect x="618.29" y="282.64" width="21.64" height="11.38" fill="#fab60d"/>
<rect x="639.93" y="282.64" width="21.64" height="11.38" fill="#fac10e"/>
<rect x="661.57" y="282.64" width="21.64" height="11.38" fill="#f9980a"/>
<rect x="618.29" y="294.02" width="21.64" height="11.38" fill="#faba0d"/>
<rect x="639.93" y="294.02" width="21.64" height="11.38" fill="#fac10e"/>
<rect x="661.57" y="294.02" width="21.64" height="11.38" fill="#f8e217"/>
<rect x="618.29" y="305.40" width="21.64" height="11.38" fill="#f9d712"/>
<rect x="639.93" y="305.40" width="21.64" height="11.38" fill="#fac10e"/>
<rect x="661.57" y="305.40" width="21.64" height="11.38" fill="#fac10e"/>
<rect x="618.29" y="316.78" width="21.64" height="11.38" fill="#f6ec22"/>
<rect x="639.93" y="316.78" width="21.64" height="11.38" fill="#fac60e"/>
<rect x="661.57" y="316.78" width="21.64" height="11.38" fill="#f99f0b"/>
<rect x="618.29" y="328.16" width="21.64" height="11.38" fill="#fab60d"/>
<rect x="639.93" y="328.16" width="21.64" height="11.38" fill="#f9a80b"/>
<rect x="661.57" y="328.16" width="21.64" height="11.38" fill="#f99d0a"/>
</g>
<g stroke="#000" stroke-width="0.9">
<line x1="499.27" y1="339.54" x2="499.27" y2="343.04"/>
<line x1="520.91" y1="339.54" x2="520.91" y2="343.04"/>
<line x1="542.55" y1="339.54" x2="542.55" y2="343.04"/>
<line x1="564.19" y1="339.54" x2="564.19" y2="343.04"/>
<line x1="585.83" y1="339.54" x2="585.83" y2="343.04"/>
<line x1="607.47" y1="339.54" x2="607.47" y2="343.04"/>
<line x1="629.11" y1="339.54" x2="629.11" y2="343.04"/>
<line x1="650.75" y1="339.54" x2="650.75" y2="343.04"/>
<line x1="672.39" y1="339.54" x2="672.39" y2="343.04"/>
</g>
<g class="t" font-size="9.5" letter-spacing="-0.55" text-anchor="middle" fill="#000">
<text x="498.97" y="352.64">1-1</text>
<text x="520.61" y="352.64">1-2</text>
<text x="542.25" y="352.64">1-3</text>
<text x="563.89" y="352.64">2-1</text>
<text x="585.53" y="352.64">2-2</text>
<text x="607.17" y="352.64">2-3</text>
<text x="628.81" y="352.64">3-1</text>
<text x="650.45" y="352.64">3-2</text>
<text x="672.09" y="352.64">3-3</text>
</g>
<g stroke="#000" stroke-width="0.9">
<line x1="74.90" y1="254.19" x2="78.50" y2="254.19"/>
<line x1="74.90" y1="265.57" x2="78.50" y2="265.57"/>
<line x1="74.90" y1="276.95" x2="78.50" y2="276.95"/>
<line x1="74.90" y1="288.33" x2="78.50" y2="288.33"/>
<line x1="74.90" y1="299.71" x2="78.50" y2="299.71"/>
<line x1="74.90" y1="311.09" x2="78.50" y2="311.09"/>
<line x1="74.90" y1="322.47" x2="78.50" y2="322.47"/>
<line x1="74.90" y1="333.85" x2="78.50" y2="333.85"/>
</g>
<g class="t" font-size="9.5" text-anchor="middle" fill="#000">
<text transform="translate(70.9,255.19) rotate(-90)">1</text>
<text transform="translate(70.9,265.77) rotate(-90)">2</text>
<text transform="translate(70.9,277.15) rotate(-90)">3</text>
<text transform="translate(70.9,288.53) rotate(-90)">4</text>
<text transform="translate(70.9,299.91) rotate(-90)">5</text>
<text transform="translate(70.9,311.29) rotate(-90)">6</text>
<text transform="translate(70.9,322.67) rotate(-90)">7</text>
<text transform="translate(70.9,334.05) rotate(-90)">8</text>
</g>
<text class="t" font-size="12.5" text-anchor="middle" transform="translate(57.3,294.02) rotate(-90)">Head</text>
<text class="t" font-size="14.3" text-anchor="middle" x="175.88" y="11.7">P label</text>
<text class="t" font-size="14.3" text-anchor="middle" x="380.68" y="11.7">S label</text>
<text class="t" font-size="14.3" text-anchor="middle" x="585.83" y="11.7">N label</text>
<text class="t" font-size="19.8" x="2" y="27.5">(a)</text>
<text class="t" font-size="19.8" x="2" y="143.8">(b)</text>
<text class="t" font-size="19.8" x="2" y="255.4">(c)</text>
<text class="t" font-size="17.4" text-anchor="middle" transform="translate(26.2,192.2) rotate(-90)">Mean</text>
<text class="t" font-size="17.4" text-anchor="middle" transform="translate(26.2,301.5) rotate(-90)">St. Dev.</text>
<text class="t" font-size="12.5" text-anchor="middle" x="175.88" y="366.8">Layer and Block</text>
<text class="t" font-size="12.5" text-anchor="middle" x="380.68" y="366.8">Layer and Block</text>
<text class="t" font-size="12.5" text-anchor="middle" x="585.83" y="366.8">Layer and Block</text>
<defs><linearGradient id="cg" x1="0" y1="0" x2="1" y2="0"><stop offset="0.0" stop-color="#f5f02a"/><stop offset="0.05" stop-color="#f7e91c"/><stop offset="0.1" stop-color="#f8de14"/><stop offset="0.2" stop-color="#fac60e"/><stop offset="0.4" stop-color="#f9980a"/><stop offset="0.6" stop-color="#f05e08"/><stop offset="0.8" stop-color="#e9200a"/><stop offset="1.0" stop-color="#ec000a"/></linearGradient></defs>
<rect x="210.3" y="386.5" width="311.30" height="14.60" fill="url(#cg)" stroke="#000" stroke-width="0.8"/>
<g stroke="#000" stroke-width="0.9">
<line x1="210.30" y1="401.10" x2="210.30" y2="404.50"/>
<line x1="272.56" y1="401.10" x2="272.56" y2="404.50"/>
<line x1="334.82" y1="401.10" x2="334.82" y2="404.50"/>
<line x1="397.08" y1="401.10" x2="397.08" y2="404.50"/>
<line x1="459.34" y1="401.10" x2="459.34" y2="404.50"/>
<line x1="521.60" y1="401.10" x2="521.60" y2="404.50"/>
</g>
<g class="t" font-size="10.5" text-anchor="middle" fill="#000">
<text x="210.30" y="415">0.0</text>
<text x="272.56" y="415">0.2</text>
<text x="334.82" y="415">0.4</text>
<text x="397.08" y="415">0.6</text>
<text x="459.34" y="415">0.8</text>
<text x="521.60" y="415">1.0</text>
</g>
<text class="t" font-size="12.2" text-anchor="middle" x="365.95" y="429.2">Normalized Importance</text>
</svg>
</body></html>
